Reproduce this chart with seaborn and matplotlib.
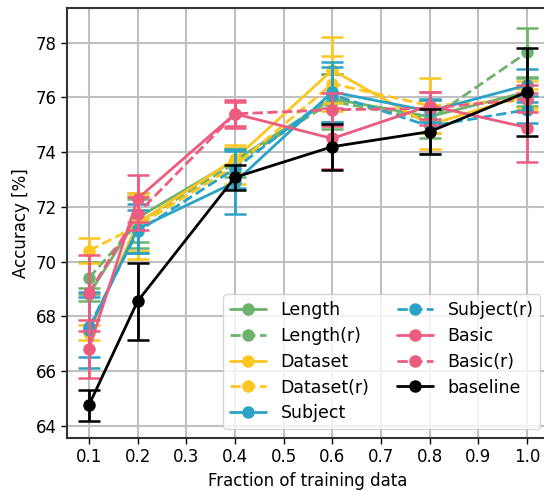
import matplotlib
matplotlib.use("Agg")
import matplotlib.pyplot as plt
import seaborn as sns
import pandas as pd

fractions = [0.1, 0.2, 0.4, 0.6, 0.8, 1.0]

length_mean = [68.8, 71.6, 73.7, 75.95, 75.3, 76.2]
length_err = [0.25, 0.9, 0.45, 0.9, 0.6, 0.5]
length_r_mean = [69.4, 71.4, 73.6, 75.85, 75.2, 77.65]
length_r_err = [0.6, 0.9, 0.5, 1.0, 0.7, 0.9]
dataset_mean = [67.4, 71.4, 73.75, 77.0, 75.0, 76.1]
dataset_err = [0.28, 1.0, 0.5, 1.2, 0.9, 0.5]
dataset_r_mean = [70.4, 71.3, 73.5, 76.5, 75.7, 75.9]
dataset_r_err = [0.45, 1.2, 0.65, 1.0, 1.0, 0.4]
subject_mean = [67.5, 71.2, 72.9, 76.2, 75.5, 76.45]
subject_err = [1.4, 0.9, 1.15, 1.1, 0.4, 0.6]
subject_r_mean = [67.6, 71.1, 73.4, 76.1, 74.95, 75.55]
subject_r_err = [1.1, 0.8, 0.7, 1.0, 1.0, 0.5]
basic_mean = [66.8, 72.3, 75.4, 74.5, 75.7, 74.9]
basic_err = [1.05, 0.85, 0.5, 1.1, 0.5, 1.25]
basic_r_mean = [68.85, 71.75, 75.4, 75.55, 75.6, 75.95]
basic_r_err = [1.4, 0.6, 0.45, 0.6, 0.6, 0.5]
baseline_mean = [64.75, 68.55, 73.08, 74.2, 74.75, 76.2]
baseline_err = [0.57, 1.4, 0.46, 0.84, 0.82, 1.6]

green = "#6db36b"
yellow = "#fdc620"
blue = "#2aa3c7"
pink = "#ec5b80"

series = [
    ("Length", length_mean, length_err, green, "-"),
    ("Length(r)", length_r_mean, length_r_err, green, "--"),
    ("Dataset", dataset_mean, dataset_err, yellow, "-"),
    ("Dataset(r)", dataset_r_mean, dataset_r_err, yellow, "--"),
    ("Subject", subject_mean, subject_err, blue, "-"),
    ("Subject(r)", subject_r_mean, subject_r_err, blue, "--"),
    ("Basic", basic_mean, basic_err, pink, "-"),
    ("Basic(r)", basic_r_mean, basic_r_err, pink, "--"),
    ("baseline", baseline_mean, baseline_err, "black", "-"),
]

sns.set_style("ticks", rc={"text.color": "black", "axes.labelcolor": "black",
                           "xtick.color": "black", "ytick.color": "black"})
plt.rcParams["font.family"] = ["DejaVu Sans"]

fig = plt.figure(figsize=(5.44, 4.91), dpi=100)
ax = fig.add_axes([67 / 544, 53 / 491, (549 - 67) / 544, (483 - 53) / 491])

for name, m, e, c, ls in series:
    df = pd.DataFrame({"x": fractions, "y": m})
    z = 4 if name == "baseline" else 3
    sns.lineplot(data=df, x="x", y="y", ax=ax, color=c, linestyle=ls,
                 marker="o", markersize=9, markeredgewidth=0, linewidth=2,
                 label=name, errorbar=None, zorder=z)
    ax.errorbar(fractions, m, yerr=e, fmt="none", ecolor=c, elinewidth=2,
                capsize=8, capthick=1.8, zorder=z)

ax.set_xlim(0.055, 1.045)
ax.set_ylim(63.55, 79.27)
ax.set_xticks([0.1, 0.2, 0.3, 0.4, 0.5, 0.6, 0.7, 0.8, 0.9, 1.0])
ax.set_yticks([64, 66, 68, 70, 72, 74, 76, 78])
ax.tick_params(labelsize=12, length=4, width=1, colors="black")
ax.grid(True, color="#c0c0c0", linewidth=1.5)
ax.set_axisbelow(True)
for s in ax.spines.values():
    s.set_color("#333333")
    s.set_linewidth(1.5)
ax.set_xlabel("Fraction of training data", fontsize=12, color="black")
ax.set_ylabel("Accuracy [%]", fontsize=12, color="black")
leg = ax.legend(loc="lower right", ncol=2, fontsize=12.5, frameon=True,
                handlelength=2.1, handletextpad=0.8, columnspacing=1.6,
                labelspacing=0.45, markerscale=1.0)
for t in leg.get_texts():
    t.set_color("black")

fig.savefig("out.png", dpi=100)
